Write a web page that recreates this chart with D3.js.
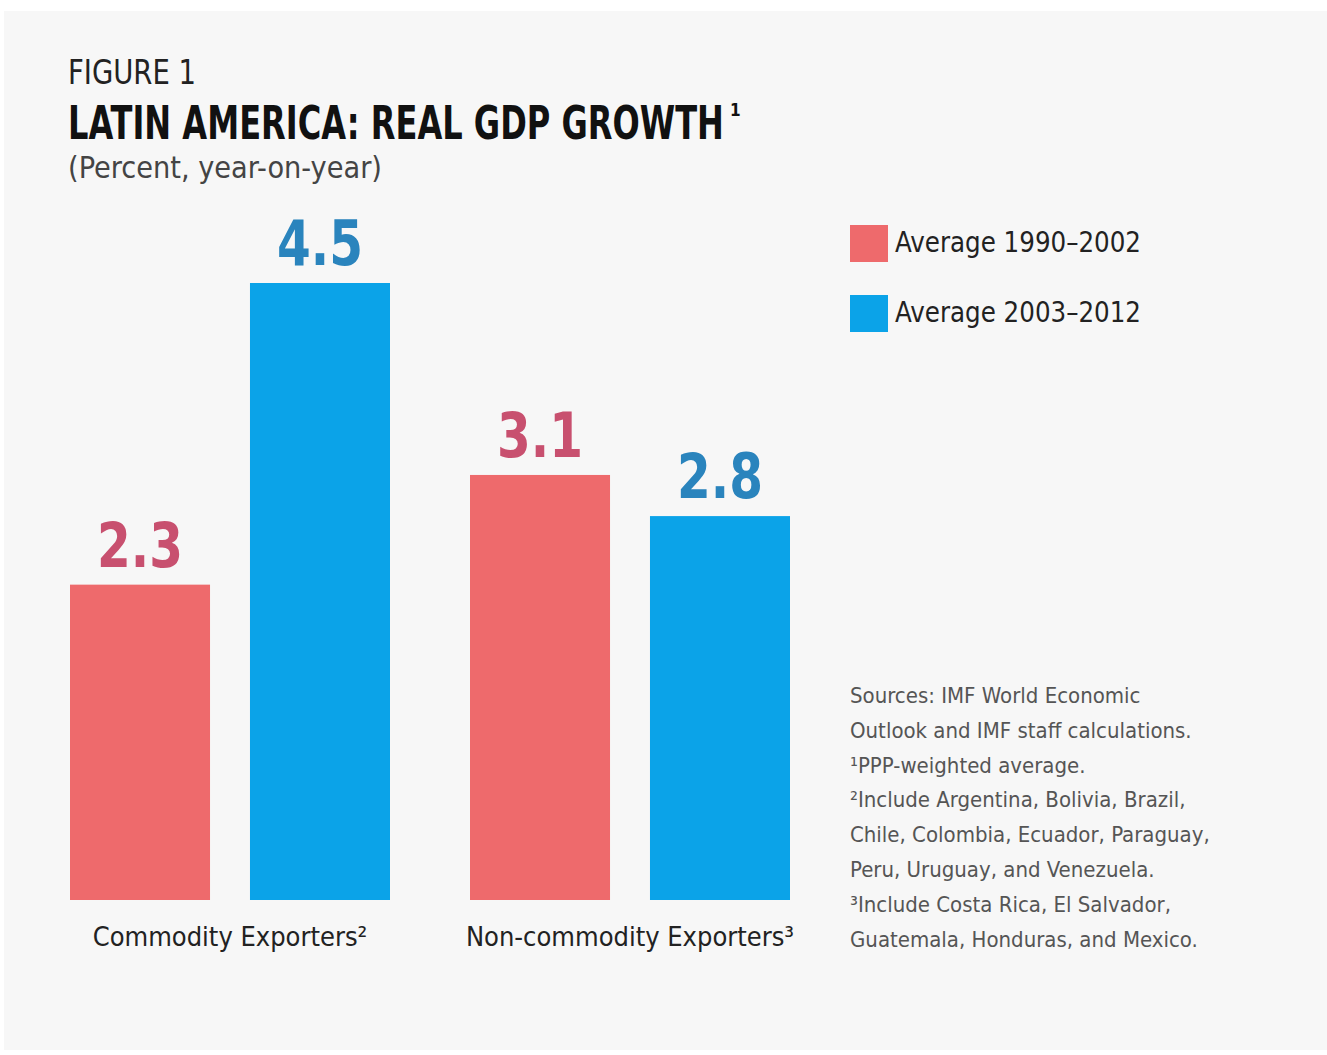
<!DOCTYPE html>
<html>
<head>
<meta charset="utf-8">
<script src="https://cdn.jsdelivr.net/npm/d3@7"></script>
<style>
  html, body { margin: 0; padding: 0; background: #fff; }
  svg { display: block; }
</style>
</head>
<body>
<svg id="chart"></svg>
<script>
const categories = ["Commodity Exporters²", "Non-commodity Exporters³"];
const series = ["Average 1990–2002", "Average 2003–2012"];
const values1990 = [2.3, 3.1];
const values2003 = [4.5, 2.8];
const footnotes = [
  "Sources: IMF World Economic",
  "Outlook and IMF staff calculations.",
  "¹PPP-weighted average.",
  "²Include Argentina, Bolivia, Brazil,",
  "Chile, Colombia, Ecuador, Paraguay,",
  "Peru, Uruguay, and Venezuela.",
  "³Include Costa Rica, El Salvador,",
  "Guatemala, Honduras, and Mexico."
];

const width = 1327;
const height = 1055;
const narrow = "'Liberation Sans Narrow', 'DejaVu Sans Condensed', 'Arial Narrow', sans-serif";

const barColors = ["#ee6a6c", "#0ba3e8"];
const labelColors = ["#c8506f", "#2a84bd"];

const svg = d3.select("#chart")
  .attr("width", width)
  .attr("height", height);

// gray panel
svg.append("rect")
  .attr("x", 4).attr("y", 11)
  .attr("width", width - 4).attr("height", 1039)
  .attr("fill", "#f7f7f7");

// titles
svg.append("text")
  .attr("x", 68).attr("y", 84)
  .style("font-family", narrow)
  .style("font-size", "34px")
  .attr("fill", "#222")
  .attr("textLength", 128).attr("lengthAdjust", "spacingAndGlyphs")
  .text("FIGURE 1");

// tall condensed title: squeeze horizontally with a transform
const titleW = 656;
const title = svg.append("text")
  .style("font-family", narrow)
  .style("font-size", "47px")
  .style("font-weight", "bold")
  .attr("fill", "#111")
  .text("LATIN AMERICA: REAL GDP GROWTH");
const natural = title.node().getComputedTextLength();
title.attr("transform", `translate(68,139) scale(${Math.min(1, titleW / natural)},1)`);

svg.append("text")
  .attr("x", 68 + titleW + 6).attr("y", 116)
  .style("font-family", narrow)
  .style("font-size", "17px")
  .style("font-weight", "bold")
  .attr("fill", "#111")
  .text("1");

svg.append("text")
  .attr("x", 68).attr("y", 178)
  .style("font-family", narrow)
  .style("font-size", "30px")
  .attr("fill", "#444")
  .attr("textLength", 314).attr("lengthAdjust", "spacingAndGlyphs")
  .text("(Percent, year-on-year)");

// scales
const x0 = d3.scaleBand()
  .domain(categories)
  .range([70, 790])
  .paddingInner(0.2)
  .paddingOuter(0);

const x1 = d3.scaleBand()
  .domain(series)
  .range([0, x0.bandwidth()])
  .paddingInner(0.222)
  .paddingOuter(0);

const y = d3.scaleLinear()
  .domain([0, 4.5])
  .range([900, 283]);

const rows = categories.map((c, i) => ({
  category: c,
  bars: [
    { key: series[0], value: values1990[i], idx: 0 },
    { key: series[1], value: values2003[i], idx: 1 }
  ]
}));

const groups = svg.selectAll(".group")
  .data(rows)
  .join("g")
  .attr("class", "group")
  .attr("transform", d => `translate(${x0(d.category)},0)`);

groups.selectAll("rect")
  .data(d => d.bars)
  .join("rect")
  .attr("x", d => x1(d.key))
  .attr("y", d => y(d.value))
  .attr("width", x1.bandwidth())
  .attr("height", d => y(0) - y(d.value))
  .attr("fill", d => barColors[d.idx]);

groups.selectAll(".val")
  .data(d => d.bars)
  .join("text")
  .attr("class", "val")
  .attr("x", d => x1(d.key) + x1.bandwidth() / 2)
  .attr("y", d => y(d.value) - 18)
  .attr("text-anchor", "middle")
  .style("font-family", narrow)
  .style("font-size", "62px")
  .style("font-weight", "bold")
  .attr("fill", d => labelColors[d.idx])
  .attr("textLength", 86).attr("lengthAdjust", "spacingAndGlyphs")
  .text(d => d3.format(".1f")(d.value));

// category labels
svg.selectAll(".cat")
  .data(categories)
  .join("text")
  .attr("class", "cat")
  .attr("x", d => x0(d) + x0.bandwidth() / 2)
  .attr("y", 946)
  .attr("text-anchor", "middle")
  .style("font-family", narrow)
  .style("font-size", "27px")
  .attr("fill", "#222")
  .text(d => d);

// legend
const legend = svg.selectAll(".legend")
  .data(series)
  .join("g")
  .attr("class", "legend")
  .attr("transform", (d, i) => `translate(850,${225 + i * 70})`);

legend.append("rect")
  .attr("width", 38).attr("height", 37)
  .attr("fill", (d, i) => barColors[i]);

legend.append("text")
  .attr("x", 45).attr("y", 27)
  .style("font-family", narrow)
  .style("font-size", "28px")
  .attr("fill", "#222")
  .attr("textLength", 246).attr("lengthAdjust", "spacingAndGlyphs")
  .text(d => d);

// footnotes
svg.append("g")
  .selectAll("text")
  .data(footnotes)
  .join("text")
  .attr("x", 850)
  .attr("y", (d, i) => 703 + i * 34.8)
  .style("font-family", narrow)
  .style("font-size", "22px")
  .attr("fill", "#555")
  .text(d => d);
</script>
</body>
</html>
